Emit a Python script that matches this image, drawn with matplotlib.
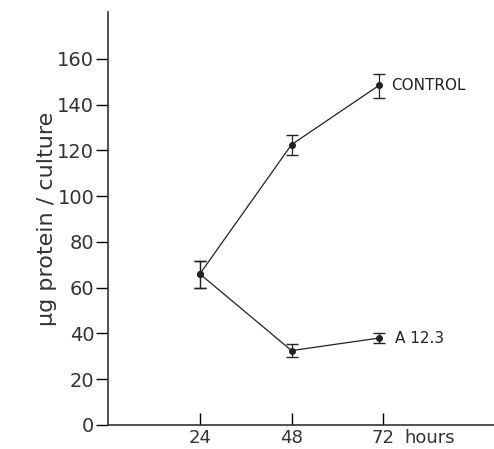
import matplotlib
matplotlib.use('Agg')
import matplotlib.pyplot as plt
from matplotlib.transforms import offset_copy

hours = [24, 48, 71]
control = [66, 122.5, 148.5]
control_lo = [60, 118, 143]
control_hi = [71.5, 126.5, 153.5]
a123 = [66, 32.5, 38]
a123_lo = [60, 29.5, 36]
a123_hi = [71.5, 35.5, 40]
yticks = [0, 20, 40, 60, 80, 100, 120, 140, 160]
xticks = [24, 48, 72]
xlabels = ['24', '48', '72']

plt.rcParams['font.family'] = 'DejaVu Sans'

fig = plt.figure(figsize=(4.94, 4.49), dpi=100)
ax = fig.add_axes([0.219, 0.0535, 0.781, 0.92])

def err(v, lo, hi):
    return [[a - b for a, b in zip(v, lo)], [b - a for a, b in zip(v, hi)]]

ax.errorbar(hours, control, yerr=err(control, control_lo, control_hi),
            color='#222222', lw=0.9, marker='o', ms=4, capsize=4, elinewidth=0.9)
ax.errorbar(hours, a123, yerr=err(a123, a123_lo, a123_hi),
            color='#222222', lw=0.9, marker='o', ms=4, capsize=4, elinewidth=0.9)

ax.text(74, control[2], 'CONTROL', fontsize=11, va='center', ha='left', color='#222222')
ax.text(75, a123[2], 'A 12.3', fontsize=11, va='center', ha='left', color='#222222')

ax.set_xlim(0, 101)
ax.set_ylim(0, 180.5)
ax.set_yticks(yticks)
ax.set_yticklabels([str(t) for t in yticks], fontsize=14, color='#333333')
ax.set_xticks(xticks)
ax.set_xticklabels(xlabels, fontsize=13, color='#333333')
ax.tick_params(axis='y', direction='out', length=9, width=1, pad=1)
ax.tick_params(axis='x', direction='in', length=9, width=1, pad=3)
tr = offset_copy(ax.get_xaxis_transform(), fig=fig, y=-3, units='points')
ax.text(77.5, 0, 'hours', transform=tr, fontsize=13, ha='left', va='top', color='#333333')

ax.set_ylabel('μg protein / culture', fontsize=16, color='#333333', labelpad=0)

for s in ['top', 'right']:
    ax.spines[s].set_visible(False)
for s in ['left', 'bottom']:
    ax.spines[s].set_linewidth(1.2)
    ax.spines[s].set_color('#333333')

fig.savefig('out.png', dpi=100)
